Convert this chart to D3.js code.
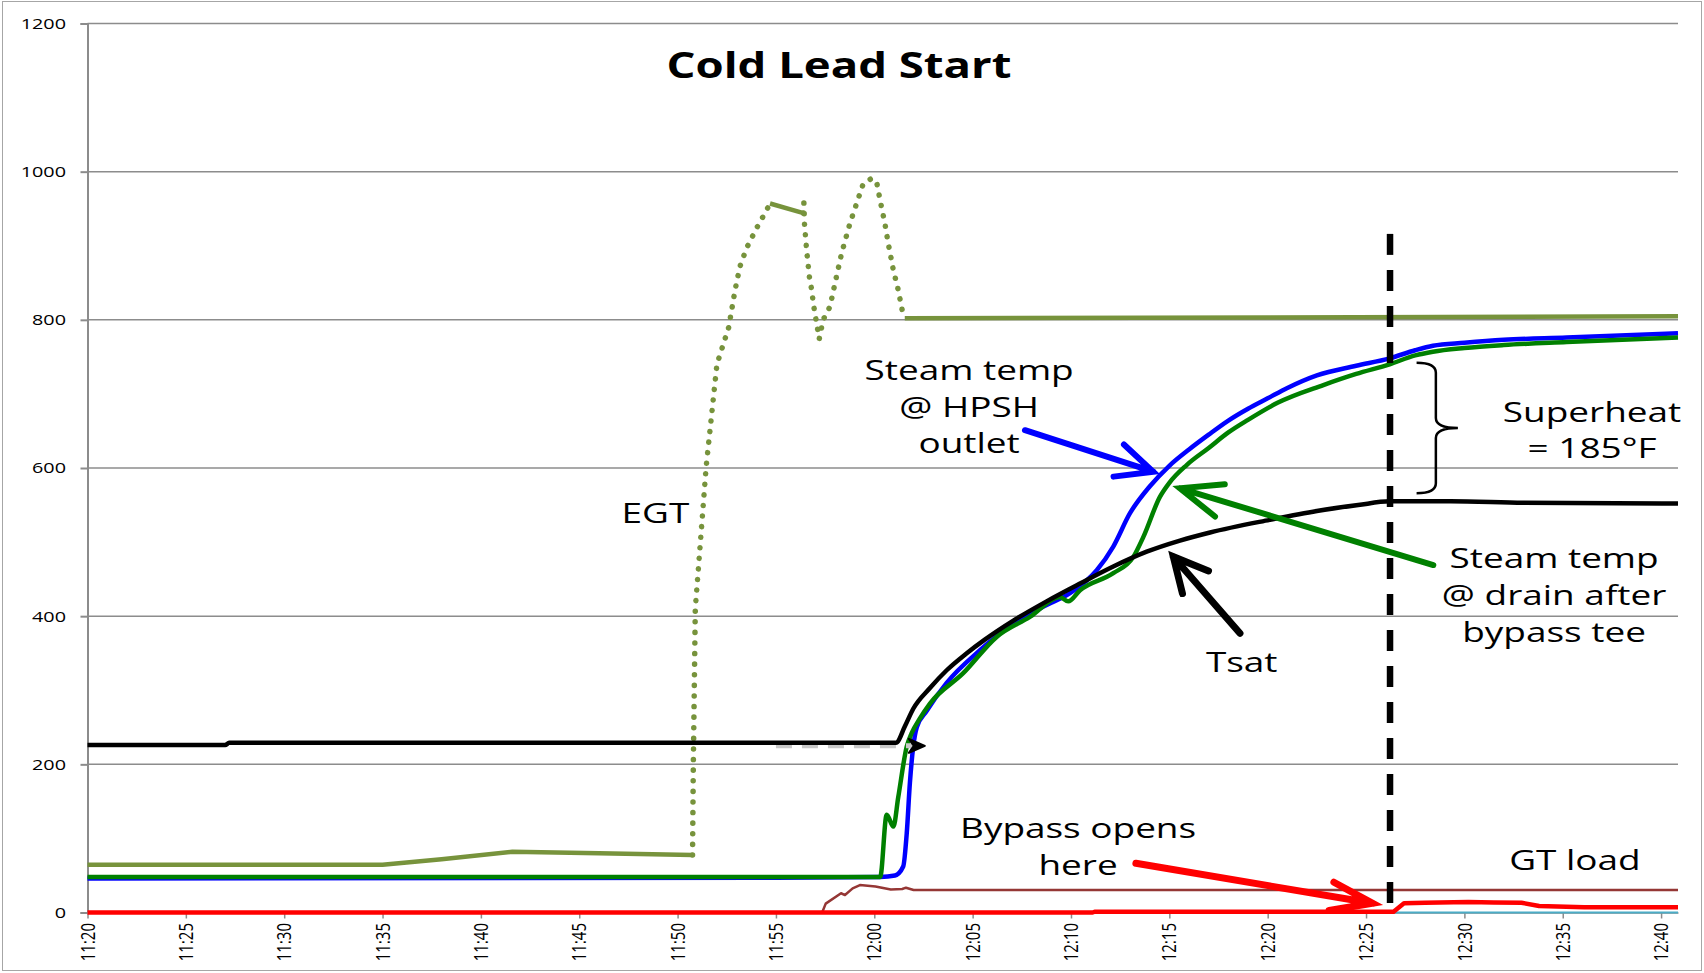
<!DOCTYPE html>
<html lang="en">
<head>
<meta charset="utf-8">
<title>Cold Lead Start</title>
<script src="https://d3js.org/d3.v7.min.js"></script>
<style>
  body { margin: 0; background: #fff; }
  text { font-family: "Open Sans", sans-serif; fill: #000; }
</style>
</head>
<body>
<script>
// time is in minutes after 11:20
var tickLabels = ["11:20","11:25","11:30","11:35","11:40","11:45","11:50","11:55","12:00",
                  "12:05","12:10","12:15","12:20","12:25","12:30","12:35","12:40"];
var yTicks = [0, 200, 400, 600, 800, 1000, 1200];

// Tsat (black)
var tsatT = [0, 7.0, 7.2, 41.1, 41.55, 41.98, 42.83, 43.68, 44.7, 45.6, 47.07, 48.76, 50.46, 52.15,
             53.85, 55.54, 57.07, 60.1, 62.5, 64.6, 66.2, 69.3, 73, 80.86];
var tsatV = [226, 226, 229, 229, 251, 275, 303, 327, 350, 368, 394, 420, 444, 467,
             487, 502, 513, 530, 542, 550, 555, 555, 553, 552];

// Steam temp @ HPSH outlet (blue)
var hpshT = [0, 35, 40.3, 41.05, 41.47, 41.65, 41.81, 41.98, 42.16, 42.66, 43.68, 45.37, 47.07, 48.76,
             49.95, 51.31, 52.15, 53.0, 54.0, 55.0, 56.0, 57.0, 58.0, 59.0, 60.0, 61.0, 62.5, 64.5,
             66.2, 67.5, 68.4, 70, 72, 75.2, 80.86];
var hpshV = [46, 47, 48, 50, 62, 107, 175, 224, 250, 272, 310, 354, 390, 415,
             431, 462, 494, 539, 575, 603, 625, 645, 664, 680, 694, 708, 725, 738,
             748, 759, 765, 769, 773, 776, 782];

// Steam temp @ drain after bypass tee (green)
var drainT = [0, 40.3, 40.63, 40.97, 41.22, 41.65, 41.9, 42.32, 42.83, 44.52, 46.22, 47.91, 49.44, 49.86,
              50.46, 52.15, 53.17, 53.68, 54.52, 55.0, 55.88, 57.0, 58.0, 59.0, 60.5, 62.83, 64.5, 66.2,
              67.5, 68.4, 70, 72, 75.2, 80.86];
var drainV = [48, 48, 132, 116, 156, 224, 242, 262, 282, 323, 372, 399, 426, 420,
              435, 458, 480, 507, 561, 580, 604, 627, 648, 665, 688, 712, 727, 740,
              752, 757, 762, 766, 770, 776];

// EGT (olive), parts of it drawn dotted
var egtT = [0, 15, 18, 21.6, 26, 30.76, 30.8, 30.9, 31.45, 32.0, 32.6, 32.92, 33.17, 33.51, 34.02, 34.44,
            34.7, 36.4, 36.42, 36.45, 36.56, 36.7, 36.82, 36.9, 37.07, 37.2, 37.4, 37.75, 38.0, 38.34,
            38.76, 39.1, 39.44, 39.87, 40.12, 40.29, 40.54, 40.71, 40.97, 41.22, 41.47, 41.55, 60, 80.86];
var egtV = [64.5, 64.5, 72, 82, 80, 77.6, 200, 410, 601, 740, 790, 840, 872, 897, 924, 944,
            957, 944, 958, 930, 894, 858, 840, 822, 795, 774, 800, 818, 849, 890,
            930, 957, 984, 991, 986, 962, 930, 903, 867, 840, 806, 802, 803, 805];
var egtDottedRuns = [[30.76, 34.7], [36.4, 41.55]];

// GT load (brown)
var gtT = [37.35, 37.53, 38.31, 38.51, 38.9, 39.27, 40.06, 40.84, 41.42, 41.61, 42.0, 80.86];
var gtV = [0, 12, 26, 23.6, 32.6, 37, 35, 31, 31.7, 33.5, 30.4, 30.4];

// bypass (red) and the teal trace under it
var bypT = [0, 51.1, 51.2, 66.4, 66.93, 68, 70.2, 71.5, 72.9, 73.8, 76.1, 80.86];
var bypV = [0, 0, 1, 1, 12.4, 13.2, 14.2, 13.5, 13.2, 8.8, 7, 7];
var tealT = [0, 80.86];
var tealV = [0, 0];

// marker line when bypass opens
var markerT = 66.22;
var markerTop = 916;

var width = 1704, height = 973;
var stretch = 1.32;

var svg = d3.select("body").append("svg")
  .attr("width", width)
  .attr("height", height);

var x = d3.scaleLinear().domain([0, 80.86]).range([87.5, 1678]);
var y = d3.scaleLinear().domain([0, 1200]).range([912.5, 23.5]);

svg.append("rect")
  .attr("x", 2.5).attr("y", 1.5)
  .attr("width", width - 5).attr("height", height - 4)
  .attr("fill", "none").attr("stroke", "#a6a6a6");

// grid
svg.append("g").selectAll("line")
  .data(yTicks.filter(function(d){ return d > 0; }))
  .enter().append("line")
    .attr("x1", x(0)).attr("x2", x(80.86))
    .attr("y1", function(d){ return y(d); })
    .attr("y2", function(d){ return y(d); })
    .attr("stroke", "#8c8c8c").attr("stroke-width", 1.5);

// y axis
var yAxis = d3.axisLeft(y).tickValues(yTicks).tickSize(7).tickFormat("");
var ya = svg.append("g").attr("transform", "translate(" + x(0) + ",0)").call(yAxis);
ya.selectAll("line, path").attr("stroke", "#8c8c8c").attr("stroke-width", 2);

svg.append("g").selectAll("text")
  .data(yTicks)
  .enter().append("text")
    .attr("transform", function(d){ return "translate(66," + y(d) + ") scale(" + stretch + ",1)"; })
    .attr("text-anchor", "end")
    .attr("dy", "0.36em")
    .style("font-size", "15px")
    .text(function(d){ return d; });

// x axis
var xAxis = d3.axisBottom(x).tickValues(d3.range(0, 81, 5)).tickSize(6).tickSizeOuter(0).tickFormat("");
var xa = svg.append("g").attr("transform", "translate(0," + y(0) + ")").call(xAxis);
xa.selectAll("line, path").attr("stroke", "#8c8c8c").attr("stroke-width", 1.5);

svg.append("g").selectAll("text")
  .data(tickLabels)
  .enter().append("text")
    .attr("transform", function(d, i){
      return "translate(" + x(i * 5) + ",923) scale(" + stretch + ",1) rotate(-90)";
    })
    .attr("text-anchor", "end")
    .attr("dy", "0.36em")
    .style("font-size", "15px")
    .text(function(d){ return d; });

// title
svg.append("text")
  .attr("transform", "translate(839,78) scale(1.3,1)")
  .attr("text-anchor", "middle")
  .style("font-size", "35px")
  .style("font-weight", "bold")
  .text("Cold Lead Start");

function pts(ts, vs){ return ts.map(function(t, i){ return [t, vs[i]]; }); }

var lineLin = d3.line().x(function(d){ return x(d[0]); }).y(function(d){ return y(d[1]); });
var lineSmooth = d3.line().x(function(d){ return x(d[0]); }).y(function(d){ return y(d[1]); })
  .curve(d3.curveMonotoneX);

var plot = svg.append("g").attr("fill", "none").attr("stroke-linejoin", "round");

// EGT split into solid and dotted runs
var egt = pts(egtT, egtV);
function isDotted(t){
  return egtDottedRuns.some(function(r){ return t >= r[0] && t < r[1]; });
}
var runs = [];
for (var i = 0; i < egt.length - 1; i++) {
  var dot = isDotted(egt[i][0]);
  if (!runs.length || runs[runs.length - 1].dot !== dot) runs.push({dot: dot, p: [egt[i]]});
  runs[runs.length - 1].p.push(egt[i + 1]);
}
runs.forEach(function(r){
  var p = plot.append("path")
    .attr("d", lineLin(r.p))
    .attr("stroke", "#77933c");
  if (r.dot) p.attr("stroke-width", 5.5).attr("stroke-dasharray", "0.1 10.5").attr("stroke-linecap", "round");
  else p.attr("stroke-width", 4.5);
});

plot.append("path").attr("d", lineLin(pts(gtT, gtV)))
  .attr("stroke", "#953735").attr("stroke-width", 2.5);
plot.append("path").attr("d", lineLin(pts(tealT, tealV)))
  .attr("stroke", "#4bacc6").attr("stroke-width", 2);
plot.append("path").attr("d", lineLin(pts(bypT, bypV)))
  .attr("stroke", "#ff0000").attr("stroke-width", 4.5);

plot.append("path").attr("d", lineSmooth(pts(hpshT, hpshV)))
  .attr("stroke", "#0000ff").attr("stroke-width", 4.5);
plot.append("path").attr("d", lineSmooth(pts(drainT, drainV)))
  .attr("stroke", "#008000").attr("stroke-width", 4.5);

// faint dashed pointer under the Tsat plateau
plot.append("line")
  .attr("x1", x(35.0)).attr("x2", x(42.0))
  .attr("y1", y(225)).attr("y2", y(225))
  .attr("stroke", "#c8c8c8").attr("stroke-width", 5).attr("stroke-dasharray", "16 10");
plot.append("path")
  .attr("d", "M" + (x(42.57) - 16) + "," + (y(225) - 7) + "L" + x(42.57) + "," + y(225) +
             "L" + (x(42.57) - 16) + "," + (y(225) + 7) + "L" + (x(42.57) - 11) + "," + y(225) + "Z")
  .attr("fill", "#000").attr("stroke", "#000").attr("stroke-width", 2);

plot.append("path").attr("d", lineSmooth(pts(tsatT, tsatV)))
  .attr("stroke", "#000").attr("stroke-width", 4.5);

// vertical dashed marker
plot.append("line")
  .attr("x1", x(markerT)).attr("x2", x(markerT))
  .attr("y1", y(markerTop)).attr("y2", y(0))
  .attr("stroke", "#000").attr("stroke-width", 6.5).attr("stroke-dasharray", "21 15");

// arrows (data units)
function arrow(p0, p1, color, w, len, ang){
  var x0 = x(p0[0]), y0 = y(p0[1]), x1 = x(p1[0]), y1 = y(p1[1]);
  var a = Math.atan2(y0 - y1, x0 - x1), r = ang * Math.PI / 180;
  var h1 = [x1 + len * Math.cos(a + r), y1 + len * Math.sin(a + r)];
  var h2 = [x1 + len * Math.cos(a - r), y1 + len * Math.sin(a - r)];
  svg.append("path")
    .attr("d", "M" + x0 + "," + y0 + "L" + x1 + "," + y1 + "M" + h1 + "L" + x1 + "," + y1 + "L" + h2)
    .attr("fill", "none").attr("stroke", color).attr("stroke-width", w)
    .attr("stroke-linecap", "round").attr("stroke-linejoin", "miter");
}
arrow([47.66, 651], [54.18, 595], "#0000ff", 6, 40, 25);
arrow([68.42, 469], [55.54, 572.6], "#008000", 6, 45, 22);
arrow([58.59, 376.9], [55.2, 480.3], "#000", 7, 38, 27);
arrow([53.3, 66.4], [65.33, 12.4], "#ff0000", 7, 44, 19);

// brace for superheat
(function(){
  var x0 = x(67.57), x1 = x(68.55), x2 = x(69.67);
  var yt = y(742), yb = y(566), ym = y(654), r = 10;
  svg.append("path")
    .attr("d", "M" + x0 + "," + yt + "Q" + x1 + "," + yt + " " + x1 + "," + (yt + r) +
               "L" + x1 + "," + (ym - r) + "Q" + x1 + "," + ym + " " + x2 + "," + ym +
               "Q" + x1 + "," + ym + " " + x1 + "," + (ym + r) +
               "L" + x1 + "," + (yb - r) + "Q" + x1 + "," + yb + " " + x0 + "," + yb)
    .attr("fill", "none").attr("stroke", "#000").attr("stroke-width", 2.5);
})();

// annotation texts (anchor: centre of first line, data units)
var notes = [
  {lines: ["Steam temp", "@ HPSH", "outlet"], t: 44.82, v: 719},
  {lines: ["Steam temp", "@ drain after", "bypass tee"], t: 74.56, v: 464.6},
  {lines: ["Superheat", "= 185°F"], t: 76.49, v: 662.5},
  {lines: ["Tsat"], t: 58.68, v: 325},
  {lines: ["EGT"], t: 28.87, v: 526},
  {lines: ["Bypass opens", "here"], t: 50.36, v: 100},
  {lines: ["GT load"], t: 75.62, v: 57.4}
];
notes.forEach(function(n){
  n.lines.forEach(function(s, k){
    svg.append("text")
      .attr("transform", "translate(" + x(n.t) + "," + (y(n.v) + k * 36.7) + ") scale(" + stretch + ",1)")
      .attr("text-anchor", "middle")
      .style("font-size", "28px")
      .text(s);
  });
});
</script>
</body>
</html>
